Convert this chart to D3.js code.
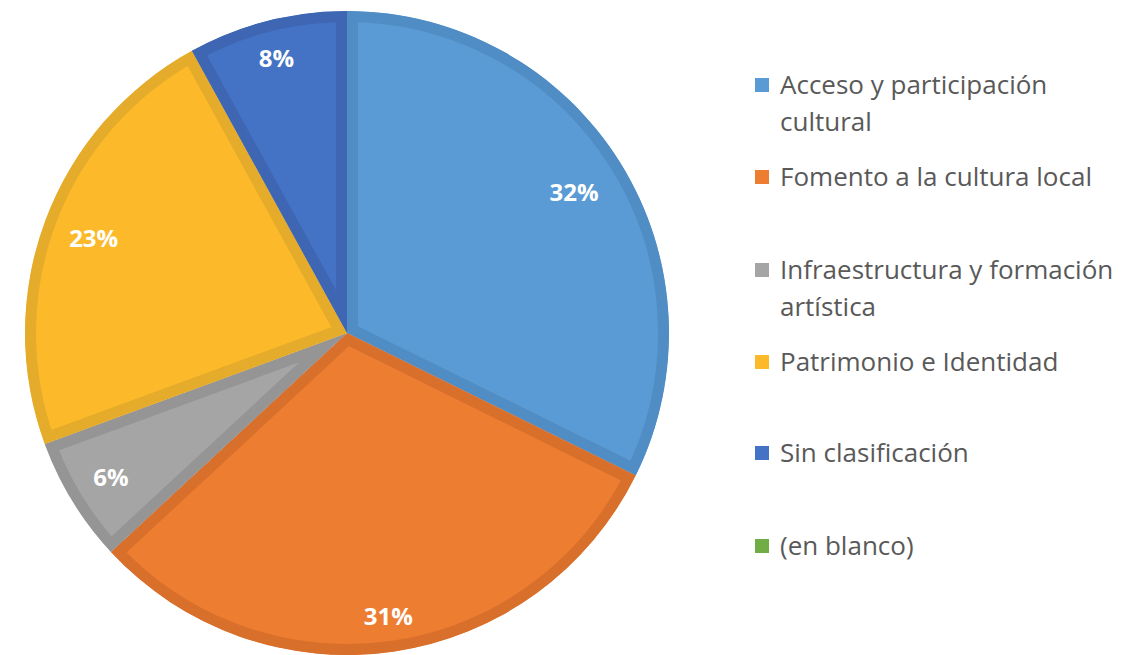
<!DOCTYPE html>
<html>
<head>
<meta charset="utf-8">
<script src="https://cdn.jsdelivr.net/npm/d3@7"></script>
<style>
  html, body { margin: 0; padding: 0; background: #fff; }
  svg { display: block; }
</style>
</head>
<body>
<div id="chart"></div>
<script>
// categorías y valores (porcentaje del total)
const categories = [
  'Acceso y participación cultural',
  'Fomento a la cultura local',
  'Infraestructura y formación artística',
  'Patrimonio e Identidad',
  'Sin clasificación',
  '(en blanco)'
];
const values = [32.3, 30.8, 6.3, 22.6, 8.0, 0];
const legendLines = [
  ['Acceso y participación', 'cultural'],
  ['Fomento a la cultura local'],
  ['Infraestructura y formación', 'artística'],
  ['Patrimonio e Identidad'],
  ['Sin clasificación'],
  ['(en blanco)']
];

const fills = ['#5b9bd5', '#ed7d31', '#a5a5a5', '#fcba2b', '#4472c4', '#70ad47'];
const borders = ['#508dc4', '#d8702c', '#959595', '#e5ab2a', '#3e66b2', '#5f9a3c'];
const labelFrac = [0.83, 0.89, 0.86, 0.84, 0.88, 0.85]; // posición de etiqueta (fracción del radio)

const width = 1122, height = 655;
const cx = 347, cy = 333, R = 322, band = 11;

const svg = d3.select('#chart').append('svg')
  .attr('width', width)
  .attr('height', height);

const defs = svg.append('defs');
const total = d3.sum(values);
const data = categories.map((c, i) => ({ name: c, value: values[i], i: i }));

const pie = d3.pie().sort(null).value(d => d.value);
const arc = d3.arc().innerRadius(0).outerRadius(R);
const arcs = pie(data).filter(d => d.data.value > 0);

const g = svg.append('g').attr('transform', `translate(${cx},${cy})`);

// slices con borde interior más oscuro (trazo recortado al propio sector)
arcs.forEach(d => {
  const id = 'clip' + d.data.i;
  defs.append('clipPath').attr('id', id)
    .append('path').attr('d', arc(d));
  g.append('path')
    .attr('d', arc(d))
    .attr('fill', fills[d.data.i])
    .attr('stroke', borders[d.data.i])
    .attr('stroke-width', band * 2)
    .attr('stroke-linejoin', 'miter')
    .attr('clip-path', `url(#${id})`);
});

const fmt = d3.format('.0%');
g.selectAll('text.lbl')
  .data(arcs)
  .join('text')
  .attr('class', 'lbl')
  .attr('transform', d => {
    const a = (d.startAngle + d.endAngle) / 2;
    const r = R * labelFrac[d.data.i];
    return `translate(${Math.sin(a) * r},${-Math.cos(a) * r})`;
  })
  .attr('text-anchor', 'middle')
  .attr('dy', '0.36em')
  .attr('fill', '#fff')
  .attr('font-family', 'Open Sans, sans-serif')
  .attr('font-weight', 'bold')
  .attr('font-size', 24)
  .text(d => fmt(d.data.value / total));

// leyenda
const legendY = [85, 177, 270, 362, 453, 546];
const legend = svg.append('g').attr('font-family', 'Open Sans, sans-serif')
  .attr('font-size', 26).attr('fill', '#595959');
categories.forEach((c, i) => {
  const gi = legend.append('g').attr('transform', `translate(755,${legendY[i]})`);
  gi.append('rect').attr('x', 0).attr('y', -7).attr('width', 14).attr('height', 14)
    .attr('fill', fills[i]);
  legendLines[i].forEach((t, j) => {
    gi.append('text').attr('x', 25).attr('y', j * 37).attr('dy', '0.35em').text(t);
  });
});
</script>
</body>
</html>
